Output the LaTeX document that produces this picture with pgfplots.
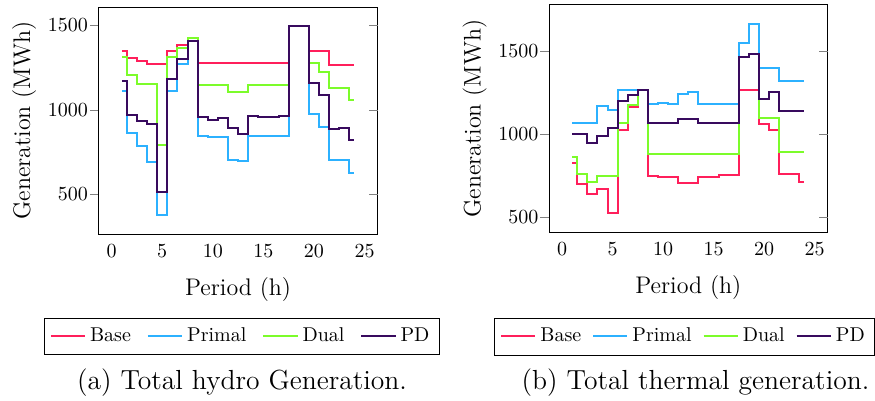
\documentclass[border=0pt]{standalone}
\usepackage{pgfplots}
\usepackage{pgfplotstable}
\pgfplotsset{compat=1.18}
\definecolor{cBase}{HTML}{FF1F5B}
\definecolor{cPrimal}{HTML}{2CB1FF}
\definecolor{cDual}{HTML}{7CFC2A}
\definecolor{cPD}{HTML}{380A5E}

\pgfplotstableread{
h base primal dual pd
1 1347 1110 1311 1169
2 1310 862 1209 968
3 1291 787 1150 933
4 1272 692 1154 917
5 1272 375 793 509
6 1349 1109 1311 1183
7 1387 1270 1368 1302
8 1406 1406 1424 1406
9 1276 842 1144 955
10 1276 838 1144 941
11 1276 840 1144 953
12 1276 700 1104 889
13 1276 697 1104 858
14 1276 842 1144 961
15 1276 842 1144 954
16 1276 842 1144 954
17 1276 842 1144 962
18 1500 1500 1500 1500
19 1500 1500 1500 1500
20 1347 976 1279 1157
21 1347 897 1225 1085
22 1268 704 1128 888
23 1268 704 1128 891
24 1268 625 1059 822
}\hydro

\pgfplotstableread{
h base primal dual pd
1 828 1068 864 998
2 698 1068 760 998
3 638 1068 714 944
4 670 1168 748 990
5 524 1144 748 1038
6 1024 1268 1064 1200
7 1162 1268 1174 1238
8 1268 1268 1264 1268
9 748 1184 880 1068
10 740 1188 880 1068
11 740 1184 880 1068
12 708 1244 880 1092
13 708 1254 880 1092
14 744 1184 880 1068
15 744 1184 880 1068
16 752 1184 880 1068
17 752 1184 880 1068
18 1268 1550 1464 1464
19 1268 1664 1484 1484
20 1060 1398 1094 1214
21 1025 1398 1094 1254
22 758 1320 894 1140
23 758 1320 894 1140
24 712 1320 894 1140
}\thermal

\pgfplotsset{
  myax/.style={
    scale only axis,
    xmin=-1.3, xmax=26.3,
    xtick={0,5,10,15,20,25},
    ytick={500,1000,1500},
    xtick style={draw=none},
    ytick style={gray},
    tick align=outside,
    ytick pos=left,
    scaled ticks=false,
    /pgf/number format/1000 sep={},
    xticklabel shift=-2.5pt,
    yticklabel shift=-2.5pt,
    xlabel shift=3pt,
    ylabel shift=-1pt,
    xlabel={Period (h)},
    ylabel={Generation (MWh)},
    label style={font=\large},
    legend columns=4,
    legend style={anchor=north, draw=black, font=\normalsize,
      inner ysep=3pt,
      /tikz/every even column/.append style={column sep=6pt}},
    every axis plot/.append style={const plot mark mid, line width=1pt, line legend},
  },
  rightticks/.style={
    scale only axis,
    xmin=-1.3, xmax=26.3,
    hide x axis,
    axis y line*=right,
    y axis line style={draw=none},
    ytick={500,1000,1500},
    yticklabels={},
    tick align=inside,
    ytick style={gray},
  }
}

\begin{document}
\begin{tikzpicture}
\begin{axis}[myax,
  at={(49.25pt,-3.5pt)}, anchor=north west,
  width=139.6pt, height=113.5pt,
  ymin=262, ymax=1610,
  legend style={at={(0.513,-0.368)}}]
\addplot[cBase] table[x=h,y=base] {\hydro};
\addplot[cPrimal] table[x=h,y=primal] {\hydro};
\addplot[cDual] table[x=h,y=dual] {\hydro};
\addplot[cPD] table[x=h,y=pd] {\hydro};
\legend{Base,Primal,Dual,PD}
\end{axis}
\begin{axis}[rightticks,
  at={(49.25pt,-3.5pt)}, anchor=north west,
  width=139.6pt, height=113.5pt,
  ymin=262, ymax=1610]
\end{axis}

\begin{axis}[myax,
  at={(274.5pt,-2.35pt)}, anchor=north west,
  width=139.35pt, height=113.8pt,
  ymin=410, ymax=1778,
  legend style={at={(0.0,-0.375)}, anchor=north west, xshift=-27.6pt,
    /tikz/every even column/.append style={column sep=3.5pt}}]
\addplot[cBase] table[x=h,y=base] {\thermal};
\addplot[cPrimal] table[x=h,y=primal] {\thermal};
\addplot[cDual] table[x=h,y=dual] {\thermal};
\addplot[cPD] table[x=h,y=pd] {\thermal};
\legend{Base,Primal,Dual,PD}
\end{axis}
\begin{axis}[rightticks,
  at={(274.5pt,-2.35pt)}, anchor=north west,
  width=139.35pt, height=113.8pt,
  ymin=410, ymax=1778]
\end{axis}

\node[font=\fontsize{13.8}{16}\selectfont] at (121pt,-191.5pt) {(a) Total hydro Generation.};
\node[font=\fontsize{13.8}{16}\selectfont] at (347.75pt,-191.5pt) {(b) Total thermal generation.};

\pgfresetboundingbox
\path[use as bounding box] (0pt,0pt) rectangle (437.5pt,-200.5pt);
\end{tikzpicture}
\end{document}
